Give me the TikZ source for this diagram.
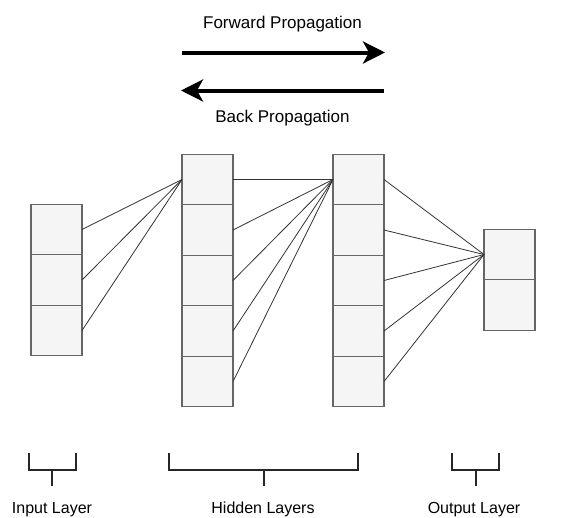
\documentclass[tikz,border=0pt]{standalone}
\usepackage{fontspec}
\setmainfont{Liberation Sans}
\usetikzlibrary{arrows.meta}
\definecolor{cellfill}{HTML}{F5F5F5}
\definecolor{cellline}{HTML}{666666}
\definecolor{wire}{HTML}{333333}
\tikzset{
  cell/.style={draw=cellline, fill=cellfill, line width=1.3pt,
    minimum width=51pt, minimum height=50.5pt, inner sep=0pt, outer sep=0pt},
  wireline/.style={draw=wire, line width=0.8pt},
  bigarrow/.style={line width=4pt, -{Stealth[length=22pt, width=22pt, inset=6pt]}},
  bracketline/.style={draw=black!85, line width=2pt},
  toplabel/.style={font=\fontsize{17}{20}\selectfont, inner sep=0pt, anchor=base},
  botlabel/.style={font=\fontsize{16}{19}\selectfont, inner sep=0pt, anchor=base},
}
\begin{document}
\begin{tikzpicture}[x=1pt, y=-1pt]
\useasboundingbox (0,0) rectangle (561,517);

% propagation arrows
\node[toplabel] (fwdtxt) at (282.5,28.5) {Forward Propagation};
\coordinate (fwdA) at (182,52.5);
\coordinate (fwdB) at (385,52.5);
\draw[bigarrow] (fwdA) -- (fwdB);
\coordinate (bckA) at (384,90.5);
\coordinate (bckB) at (181,90.5);
\draw[bigarrow] (bckA) -- (bckB);
\node[toplabel] (bcktxt) at (282.5,122.5) {Back Propagation};

% input layer
\foreach \i/\y in {1/229.5, 2/280, 3/330.5}
  \node[cell] (in\i) at (56.5,\y) {};
% hidden layers
\foreach \i/\y in {1/179.5, 2/230, 3/280.5, 4/331, 5/381.5} {
  \node[cell] (ha\i) at (207.5,\y) {};
  \node[cell] (hb\i) at (358.5,\y) {};
}
% output layer
\foreach \i/\y in {1/254.5, 2/305}
  \node[cell] (out\i) at (509.5,\y) {};

% connections
\foreach \i in {1,2,3}
  \draw[wireline] (in\i.east) -- (ha1.west);
\foreach \i in {1,...,5}
  \draw[wireline] (ha\i.east) -- (hb1.west);
\foreach \i in {1,...,5}
  \draw[wireline] (hb\i.east) -- (out1.west);

% brackets and captions
\draw[bracketline] (28.5,452.5) -- (28.5,469.5) -- (76,469.5) -- (76,452.5);
\draw[bracketline] (52,469.5) -- (52,486);
\draw[bracketline] (169,452.5) -- (169,469.5) -- (358,469.5) -- (358,452.5);
\draw[bracketline] (263.5,469.5) -- (263.5,486);
\draw[bracketline] (452,452.5) -- (452,469.5) -- (499,469.5) -- (499,452.5);
\draw[bracketline] (475.5,469.5) -- (475.5,486);

\node[botlabel] (inlbl) at (52,513) {Input Layer};
\node[botlabel] (hidlbl) at (263,513) {Hidden Layers};
\node[botlabel] (outlbl) at (474,513) {Output Layer};
\end{tikzpicture}
\end{document}
